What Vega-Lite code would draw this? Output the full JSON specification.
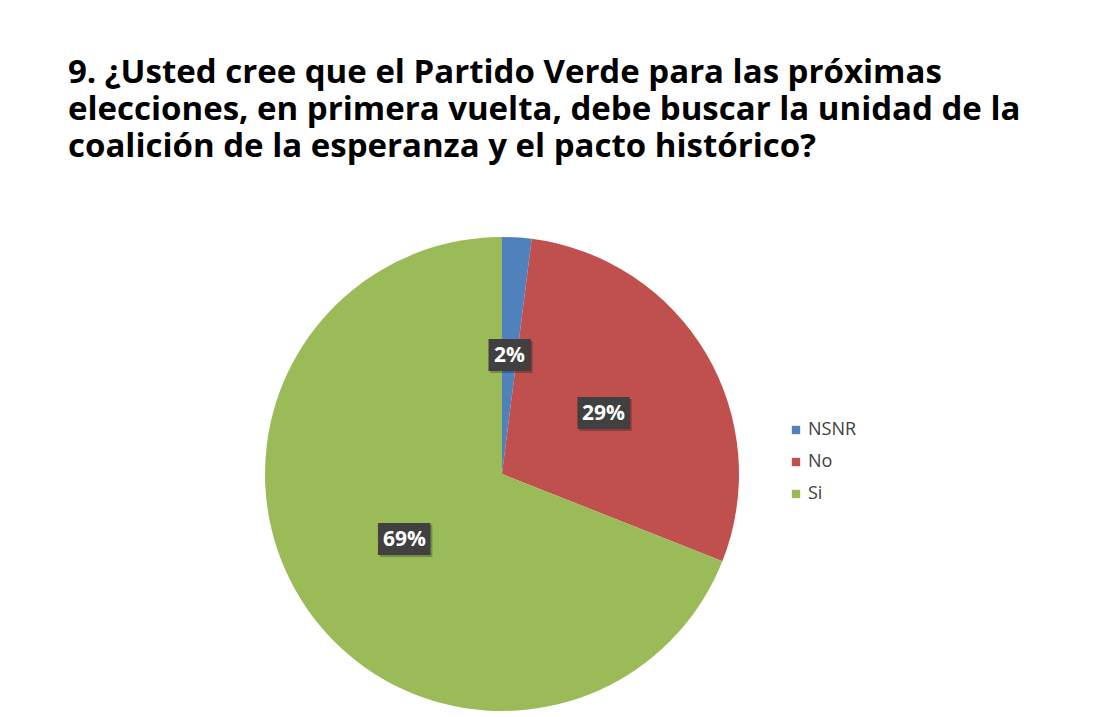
{
  "$schema": "https://vega.github.io/schema/vega-lite/v6.json",
  "width": 474,
  "height": 474,
  "autosize": {"type": "none"},
  "padding": {"left": 265, "top": 237, "right": 356, "bottom": 6},
  "background": "white",
  "title": {
    "text": ["9. ¿Usted cree que el Partido Verde para las próximas", "elecciones, en primera vuelta, debe buscar la unidad de la", "coalición de la esperanza y el pacto histórico?"],
    "anchor": "start",
    "frame": "group",
    "font": "Open Sans",
    "fontWeight": "bold",
    "fontSize": 33,
    "lineHeight": 37,
    "color": "#000000",
    "baseline": "top",
    "offset": 0,
    "dx": -197,
    "dy": -73
  },
  "data": {
    "values": [
      {"cat": "NSNR", "pct": 2, "label": "2%"},
      {"cat": "No", "pct": 29, "label": "29%"},
      {"cat": "Si", "pct": 69, "label": "69%"}
    ]
  },
  "encoding": {
    "theta": {"field": "pct", "type": "quantitative", "stack": true}
  },
  "layer": [
    {
      "mark": {"type": "arc"},
      "encoding": {
        "color": {
          "field": "cat",
          "type": "nominal",
          "scale": {"domain": ["NSNR", "No", "Si"], "range": ["#4F81BD", "#C0504D", "#9BBB59"]},
          "legend": {
            "title": null,
            "orient": "none",
            "legendX": 522,
            "legendY": 184,
            "symbolType": "square",
            "symbolSize": 70,
            "symbolStrokeWidth": 0,
            "rowPadding": 14,
            "labelFont": "Open Sans",
            "labelFontSize": 18,
            "labelColor": "#404040",
            "labelOffset": 3
          }
        }
      }
    },
    {
      "mark": {"type": "text", "radius": 118, "font": "DejaVu Sans", "fontSize": 27, "color": "#000000", "opacity": 0.25, "dx": 2, "dy": 2, "baseline": "middle", "align": "center"},
      "encoding": {
        "detail": {"field": "cat"},
        "text": {"condition": {"test": "datum.pct < 10", "value": "██"}, "value": ""}
      }
    },
    {
      "mark": {"type": "text", "radius": 118, "font": "DejaVu Sans", "fontSize": 27, "color": "#000000", "opacity": 0.25, "dx": 7, "dy": 2, "baseline": "middle", "align": "center"},
      "encoding": {
        "detail": {"field": "cat"},
        "text": {"condition": {"test": "datum.pct < 10", "value": ""}, "value": "██▌"}
      }
    },
    {
      "mark": {"type": "text", "radius": 118, "font": "DejaVu Sans", "fontSize": 27, "color": "#404040", "baseline": "middle", "align": "center"},
      "encoding": {
        "detail": {"field": "cat"},
        "text": {"condition": {"test": "datum.pct < 10", "value": "██"}, "value": ""}
      }
    },
    {
      "mark": {"type": "text", "radius": 118, "font": "DejaVu Sans", "fontSize": 27, "color": "#404040", "dx": 5, "baseline": "middle", "align": "center"},
      "encoding": {
        "detail": {"field": "cat"},
        "text": {"condition": {"test": "datum.pct < 10", "value": ""}, "value": "██▌"}
      }
    },
    {
      "mark": {"type": "text", "radius": 118, "font": "Open Sans", "fontWeight": "bold", "fontSize": 21, "color": "#ffffff", "baseline": "middle", "align": "center"},
      "encoding": {
        "detail": {"field": "cat"},
        "text": {"field": "label"}
      }
    }
  ]
}
